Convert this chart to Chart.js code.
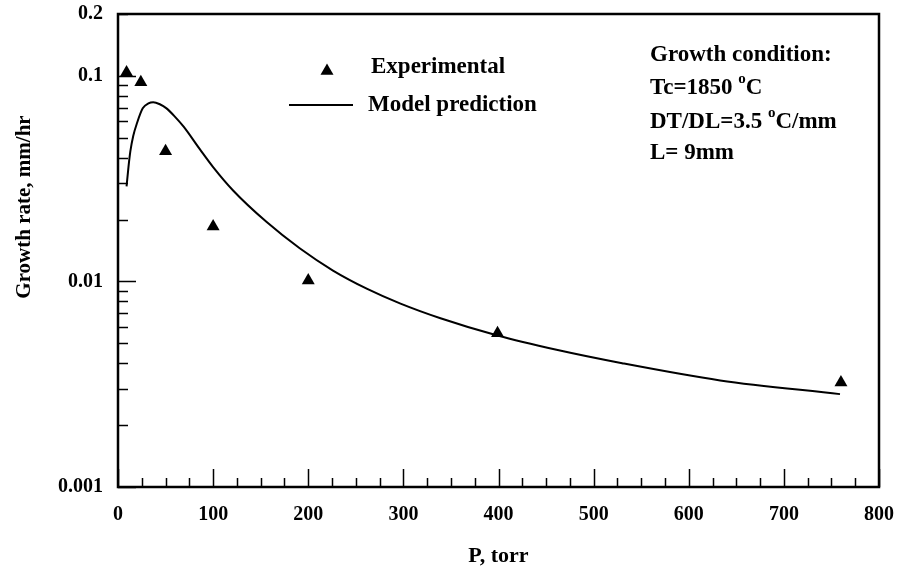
<!DOCTYPE html>
<html>
<head>
<meta charset="utf-8">
<script src="https://cdn.jsdelivr.net/npm/chart.js@4.4.0/dist/chart.umd.min.js"></script>
<style>
html, body { margin: 0; padding: 0; background: #fff; }
</style>
</head>
<body>
<canvas id="myChart" width="900" height="570"></canvas>
<script>
// experimental points (P in torr, growth rate in mm/hr)
var expP = [9, 24, 50, 100, 200, 399, 760];
var expRate = [0.104, 0.093, 0.043, 0.0185, 0.0101, 0.0056, 0.00322];

// model prediction curve
var modelP = [9, 11, 13, 16, 20, 26, 32, 37, 44, 51, 60, 69, 86, 100, 121, 156, 191, 226, 262, 297, 339, 398, 461, 530, 633, 759];
var modelRate = [0.029, 0.036, 0.043, 0.051, 0.059, 0.0695, 0.0735, 0.0745, 0.0728, 0.0695, 0.0632, 0.0566, 0.044, 0.036, 0.0277, 0.0195, 0.0145, 0.0113, 0.0092, 0.0078, 0.00662, 0.00547, 0.00465, 0.0040, 0.0033, 0.00283];

var yTicks = [0.001, 0.01, 0.1, 0.2];
var xMin = 0, xMax = 800;

var serif = "'Liberation Serif', 'Times New Roman', serif";

function toXY(xs, ys) {
    var out = [];
    for (var i = 0; i < xs.length; i++) out.push({x: xs[i], y: ys[i]});
    return out;
}

function triangle(ctx, x, y, r) {
    ctx.beginPath();
    ctx.moveTo(x, y - r);
    ctx.lineTo(x + r * Math.sin(2 * Math.PI / 3), y - r * Math.cos(2 * Math.PI / 3));
    ctx.lineTo(x + r * Math.sin(4 * Math.PI / 3), y - r * Math.cos(4 * Math.PI / 3));
    ctx.closePath();
    ctx.fill();
}

// frame, inward ticks, titles, legend and the condition note
var decorations = {
    id: 'decorations',
    afterDraw: function(chart) {
        var ctx = chart.ctx;
        var a = chart.chartArea;
        var xs = chart.scales.x, ys = chart.scales.y;
        ctx.save();
        ctx.strokeStyle = '#000';
        ctx.fillStyle = '#000';

        // ticks along x
        ctx.lineWidth = 1.5;
        ctx.beginPath();
        for (var v = xMin; v <= xMax; v += 25) {
            var px = Math.round(xs.getPixelForValue(v)) + 0.5;
            var len = (v % 100 === 0) ? 18 : 9;
            ctx.moveTo(px, a.bottom);
            ctx.lineTo(px, a.bottom - len);
        }
        // ticks along y (log)
        for (var e = -3; e <= -1; e++) {
            for (var m = 1; m <= 9; m++) {
                var val = m * Math.pow(10, e);
                if (val > 0.2 + 1e-9) break;
                var py = Math.round(ys.getPixelForValue(val)) + 0.5;
                var l = (m === 1) ? 18 : 10;
                ctx.moveTo(a.left, py);
                ctx.lineTo(a.left + l, py);
            }
        }
        ctx.stroke();

        // frame
        ctx.lineWidth = 2.5;
        ctx.strokeRect(a.left, a.top, a.right - a.left, a.bottom - a.top);

        // axis titles
        ctx.font = 'bold 22px ' + serif;
        ctx.textAlign = 'center';
        ctx.textBaseline = 'middle';
        ctx.fillText('P, torr', (a.left + a.right) / 2, 556);
        ctx.save();
        ctx.translate(25, 207);
        ctx.rotate(-Math.PI / 2);
        ctx.font = 'bold 21px ' + serif;
        ctx.fillText('Growth rate, mm/hr', 0, 0);
        ctx.restore();

        // legend
        ctx.textAlign = 'left';
        ctx.font = 'bold 23px ' + serif;
        triangle(ctx, 327, 71, 7.5);
        ctx.fillText('Experimental', 371, 67);
        ctx.lineWidth = 2;
        ctx.beginPath();
        ctx.moveTo(289, 105);
        ctx.lineTo(353, 105);
        ctx.stroke();
        ctx.fillText('Model prediction', 368, 105);

        // growth condition note
        var lx = 650;
        ctx.fillText('Growth condition:', lx, 55);
        function withDegree(before, after, y) {
            ctx.font = 'bold 23px ' + serif;
            ctx.fillText(before, lx, y);
            var w = ctx.measureText(before).width;
            ctx.font = 'bold 15px ' + serif;
            ctx.fillText('o', lx + w, y - 9);
            var w2 = ctx.measureText('o').width;
            ctx.font = 'bold 23px ' + serif;
            ctx.fillText(after, lx + w + w2, y);
        }
        withDegree('Tc=1850 ', 'C', 88);
        withDegree('DT/DL=3.5 ', 'C/mm', 122);
        ctx.font = 'bold 23px ' + serif;
        ctx.fillText('L= 9mm', lx, 153);
        ctx.restore();
    }
};

var ctx = document.getElementById('myChart').getContext('2d');

var data = {
    datasets: [
        {
            label: 'Model prediction',
            data: toXY(modelP, modelRate),
            showLine: true,
            borderColor: '#000',
            borderWidth: 2,
            pointRadius: 0,
            cubicInterpolationMode: 'monotone',
            fill: false
        },
        {
            label: 'Experimental',
            data: toXY(expP, expRate),
            showLine: false,
            pointStyle: 'triangle',
            pointRadius: 7.5,
            backgroundColor: '#000',
            borderColor: '#000',
            borderWidth: 0
        }
    ]
};

var config = {
    type: 'scatter',
    data: data,
    options: {
        responsive: false,
        animation: false,
        layout: {
            padding: {left: 0, right: 21, top: 14, bottom: 0}
        },
        plugins: {
            legend: {display: false},
            tooltip: {enabled: false}
        },
        scales: {
            x: {
                type: 'linear',
                min: xMin,
                max: xMax,
                grid: {display: false, drawTicks: false},
                border: {display: false},
                ticks: {
                    stepSize: 100,
                    padding: 16,
                    color: '#000',
                    font: {family: serif, size: 20, weight: 'bold'}
                },
                afterFit: function(scale) {
                    scale.height = 83;
                    scale.paddingLeft = 0;
                    scale.paddingRight = 0;
                }
            },
            y: {
                type: 'logarithmic',
                min: 0.001,
                max: 0.2,
                grid: {display: false, drawTicks: false},
                border: {display: false},
                afterBuildTicks: function(scale) {
                    scale.ticks = yTicks.map(function(v) { return {value: v}; });
                },
                ticks: {
                    padding: 15,
                    color: '#000',
                    font: {family: serif, size: 20, weight: 'bold'},
                    callback: function(value) { return String(value); }
                },
                afterFit: function(scale) {
                    scale.width = 118;
                    scale.paddingTop = 0;
                    scale.paddingBottom = 0;
                }
            }
        }
    },
    plugins: [decorations]
};

var myChart = new Chart(ctx, config);
</script>
</body>
</html>
